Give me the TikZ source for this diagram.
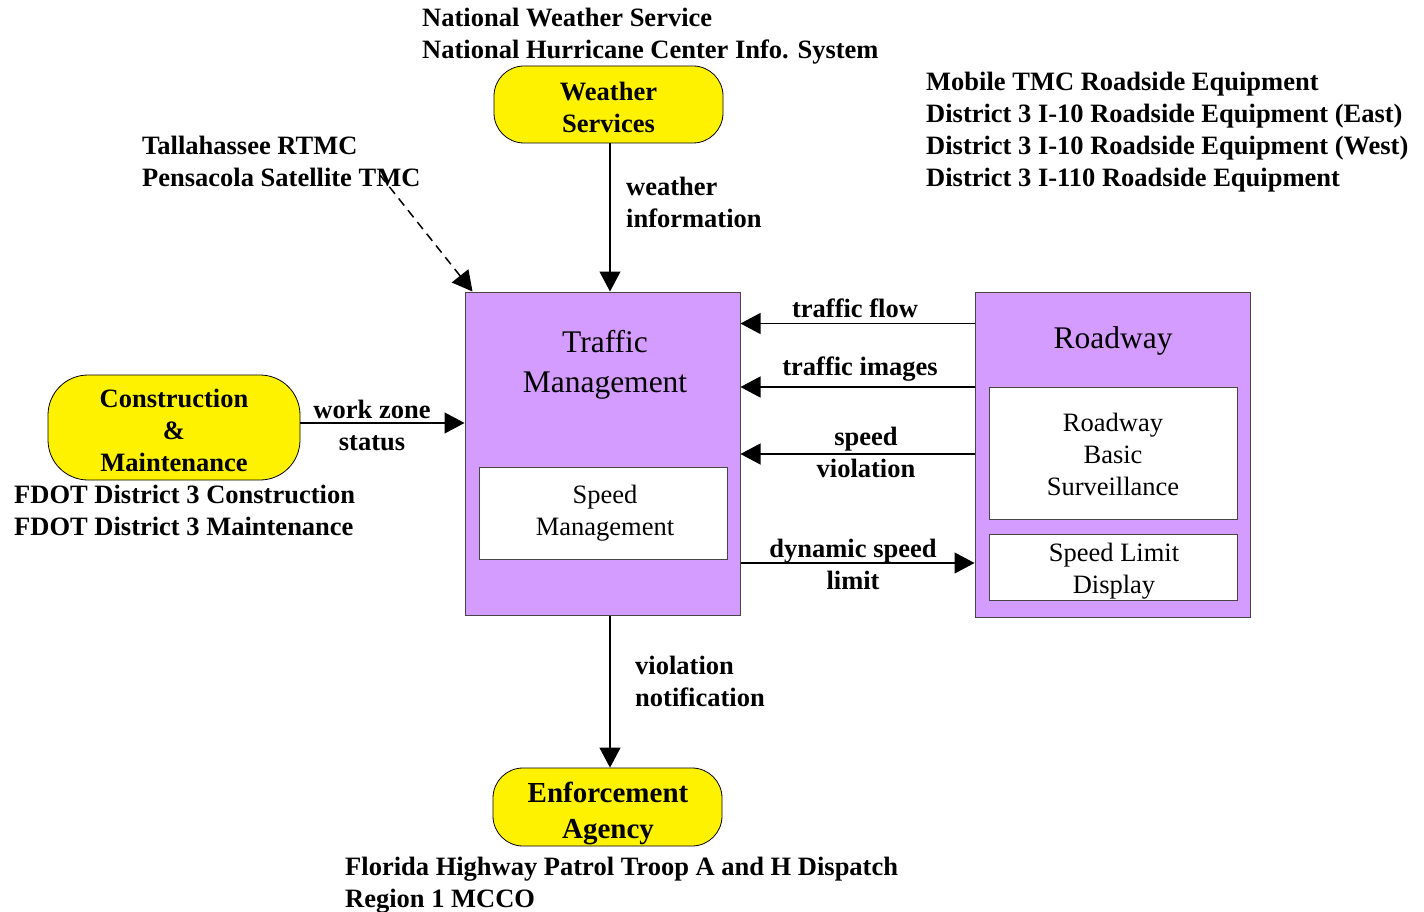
\documentclass[tikz,border=0pt]{standalone}
\usepackage{fontspec}
\setmainfont{Liberation Serif}
\usetikzlibrary{arrows.meta}
\definecolor{tmpurple}{RGB}{213,156,255}
\definecolor{edgegray}{RGB}{70,70,70}
\begin{document}
\begin{tikzpicture}[x=1pt,y=-1pt,
  lbl/.style={font=\bfseries\fontsize{26.5}{32}\selectfont, align=center, inner sep=0pt},
  lbll/.style={font=\bfseries\fontsize{26.5}{32}\selectfont, align=left, inner sep=0pt, anchor=west},
  ext/.style={draw=black, fill=yellow, line width=0.8pt, inner sep=0pt},
  sysbox/.style={draw=edgegray, fill=tmpurple, line width=1pt, inner sep=0pt},
  subbox/.style={draw=edgegray, fill=white, line width=1pt, inner sep=0pt},
  subtxt/.style={font=\fontsize{26.5}{32}\selectfont, align=center, inner sep=0pt},
  ttl/.style={font=\fontsize{31.5}{40}\selectfont, align=center, inner sep=0pt},
  arr/.style={line width=1.2pt, -{Triangle[length=20pt,width=21pt]}}
]
\useasboundingbox (0,0) rectangle (1424,912);

% external entities
\node[ext, rounded corners=30pt, minimum width=229pt, minimum height=77pt] (ws) at (608.5,104.5) {};
\node[lbl] (wst) at (608.5,107.5) {Weather\\Services};
\node[ext, rounded corners=40pt, minimum width=252pt, minimum height=105pt] (cm) at (174,427.5) {};
\node[lbl] (cmt) at (174,430.5) {Construction\\\&\\Maintenance};
\node[ext, rounded corners=30pt, minimum width=229pt, minimum height=78pt] (ea) at (607.5,807) {};
\node[lbl, font=\bfseries\fontsize{29}{36}\selectfont] (eat) at (608,813) {Enforcement\\Agency};

% systems
\node[sysbox, minimum width=275pt, minimum height=323pt] (tm) at (602.5,453.5) {};
\node[ttl] (tmt) at (605,364.5) {Traffic\\Management};
\node[subbox, minimum width=248pt, minimum height=92pt] (sm) at (603,513) {};
\node[subtxt] (smt) at (605,513) {Speed\\Management};

\node[sysbox, minimum width=275pt, minimum height=325pt] (rw) at (1112.5,454.5) {};
\node[ttl] (rwt) at (1113,341) {Roadway};
\node[subbox, minimum width=248pt, minimum height=132pt] (rbs) at (1113,453) {};
\node[subtxt] (rbst) at (1113,454) {Roadway\\Basic\\Surveillance};
\node[subbox, minimum width=248pt, minimum height=66pt] (sld) at (1113,567) {};
\node[subtxt] (sldt) at (1114,571.5) {Speed Limit\\Display};

% annotations
\node[lbll] (a1) at (422,36) {National Weather Service\\National Hurricane Center Info. System};
\node[lbll] (a2) at (142,161) {Tallahassee RTMC\\Pensacola Satellite TMC};
\node[lbll] (a3) at (926,132) {Mobile TMC Roadside Equipment\\District 3 I-10 Roadside Equipment (East)\\District 3 I-10 Roadside Equipment (West)\\District 3 I-110 Roadside Equipment};
\node[lbll] (a4) at (14,510) {FDOT District 3 Construction\\FDOT District 3 Maintenance};
\node[lbll] (a5) at (345,885) {Florida Highway Patrol Troop A and H Dispatch\\Region 1 MCCO};

% connector anchor points
\coordinate (wzs) at ([yshift=4.5pt]cm.east);
\coordinate (tfs) at ([yshift=-32pt]rw.north west);
\coordinate (tis) at ([yshift=-95.5pt]rw.north west);
\coordinate (svs) at ([yshift=-162.5pt]rw.north west);
\coordinate (dss) at ([yshift=-271.5pt]tm.north east);
\coordinate (vx) at (610,0);
\coordinate (ds) at (380,175);

% connectors
\draw[arr] (ws.south -| vx) -- (tm.north -| vx);
\node[lbll] (l1) at (626,202.5) {weather\\information};

\draw[arr, line width=1.5pt, dash pattern=on 9pt off 6pt] (ds) -- ([xshift=8pt]tm.north west);

\draw[arr] (wzs) -- (tm.west |- wzs);
\node[lbl] (l2) at (372,425) {work zone\\status};

\draw[arr] (tfs) -- (tm.east |- tfs);
\node[lbl] (l3) at (855,308) {traffic flow};

\draw[arr] (tis) -- (tm.east |- tis);
\node[lbl] (l4) at (860,369.5) {traffic images};

\draw[arr] (svs) -- (tm.east |- svs);
\node[lbl] (l5) at (866,452) {speed\\violation};

\draw[arr] (dss) -- (rw.west |- dss);
\node[lbl] (l6) at (853,564) {dynamic speed\\limit};

\draw[arr] (tm.south -| vx) -- (ea.north -| vx);
\node[lbll] (l7) at (635,681) {violation\\notification};
\end{tikzpicture}
\end{document}
